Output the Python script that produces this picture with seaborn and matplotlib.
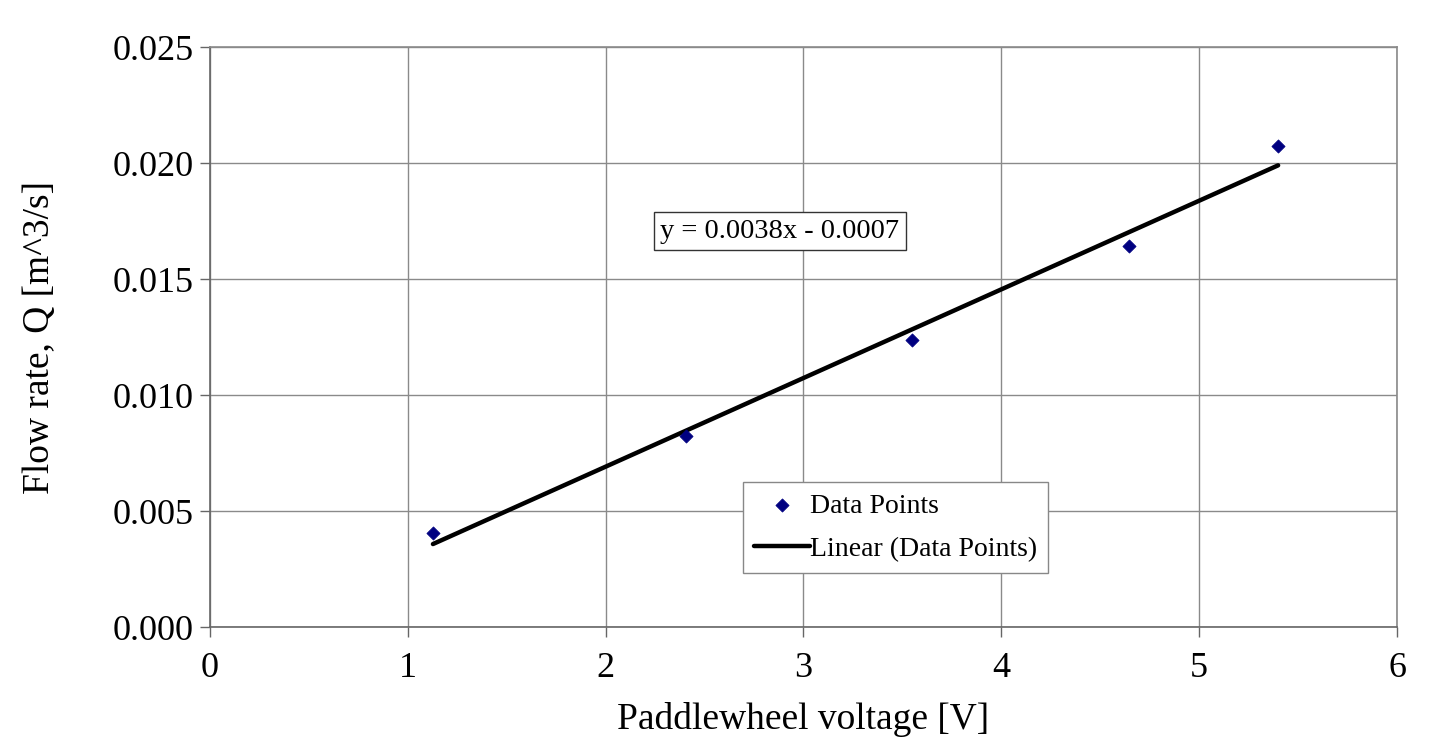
import numpy as np
import pandas as pd
import matplotlib
matplotlib.use("Agg")
import matplotlib.pyplot as plt
import seaborn as sns

voltage = [1.127, 2.406, 3.549, 4.646, 5.399]
flow = [0.00405, 0.00823, 0.01237, 0.01642, 0.02073]
x_ticks = [0, 1, 2, 3, 4, 5, 6]
y_ticks = [0.000, 0.005, 0.010, 0.015, 0.020, 0.025]

sns.set_style("white")
plt.rcParams['font.family'] = ['Liberation Serif', 'DejaVu Serif']
plt.rcParams['text.color'] = 'black'
plt.rcParams['axes.labelcolor'] = 'black'
plt.rcParams['xtick.color'] = 'black'
plt.rcParams['ytick.color'] = 'black'

df = pd.DataFrame({"V": voltage, "Q": flow})
slope, intercept = np.polyfit(voltage, flow, 1)
fit = pd.DataFrame({"V": [min(voltage), max(voltage)]})
fit["Q"] = slope * fit["V"] + intercept

fig = plt.figure(figsize=(14.48, 7.51), dpi=100)
ax = fig.add_axes([0.145, 0.165, 0.8198, 0.7724])

sns.lineplot(data=fit, x="V", y="Q", ax=ax, color="black", linewidth=3.2,
             label="Linear (Data Points)", zorder=2)
sns.scatterplot(data=df, x="V", y="Q", ax=ax, marker="D", color="#000080",
                s=45, edgecolor="#000080", label="Data Points", zorder=3)

ax.set_xlim(0, 6)
ax.set_ylim(0, 0.025)
ax.set_xticks(x_ticks)
ax.set_yticks(y_ticks)
ax.set_yticklabels([f"{v:.3f}" for v in y_ticks])
ax.grid(True, color="#8a8a8a", linewidth=1.0)
ax.set_axisbelow(True)
for s in ax.spines.values():
    s.set_color("#8a8a8a")
    s.set_linewidth(1.2)
ax.spines["left"].set_color("#666666")
ax.spines["bottom"].set_color("#666666")
ax.tick_params(axis="both", which="major", direction="out", length=7, width=1.0,
               color="#666666", labelcolor="black", labelsize=26, pad=5,
               left=True, bottom=True)
ax.tick_params(axis="x", pad=11)
ax.set_xlabel("Paddlewheel voltage [V]", fontsize=27, labelpad=12)
ax.set_ylabel("Flow rate, Q [m^3/s]", fontsize=27, labelpad=40)

sign = "-" if intercept < 0 else "+"
ax.text(2.88, 0.01707, f"y = {slope:.4f}x {sign} {abs(intercept):.4f}",
        fontsize=20.5, ha="center", va="center",
        bbox=dict(boxstyle="square,pad=0.22", facecolor="white",
                  edgecolor="#333333", linewidth=1.0))

handles, labels = ax.get_legend_handles_labels()
order = [1, 0]
leg = ax.legend([handles[i] for i in order], [labels[i] for i in order],
                loc="upper left", bbox_to_anchor=(0.449, 0.25), fontsize=20,
                frameon=True, fancybox=False, framealpha=1, edgecolor="#888888",
                handlelength=2.0, handletextpad=0.0, borderpad=0.4,
                labelspacing=0.65, borderaxespad=0)
leg.get_frame().set_linewidth(1.0)

fig.savefig("out.png", dpi=100)
